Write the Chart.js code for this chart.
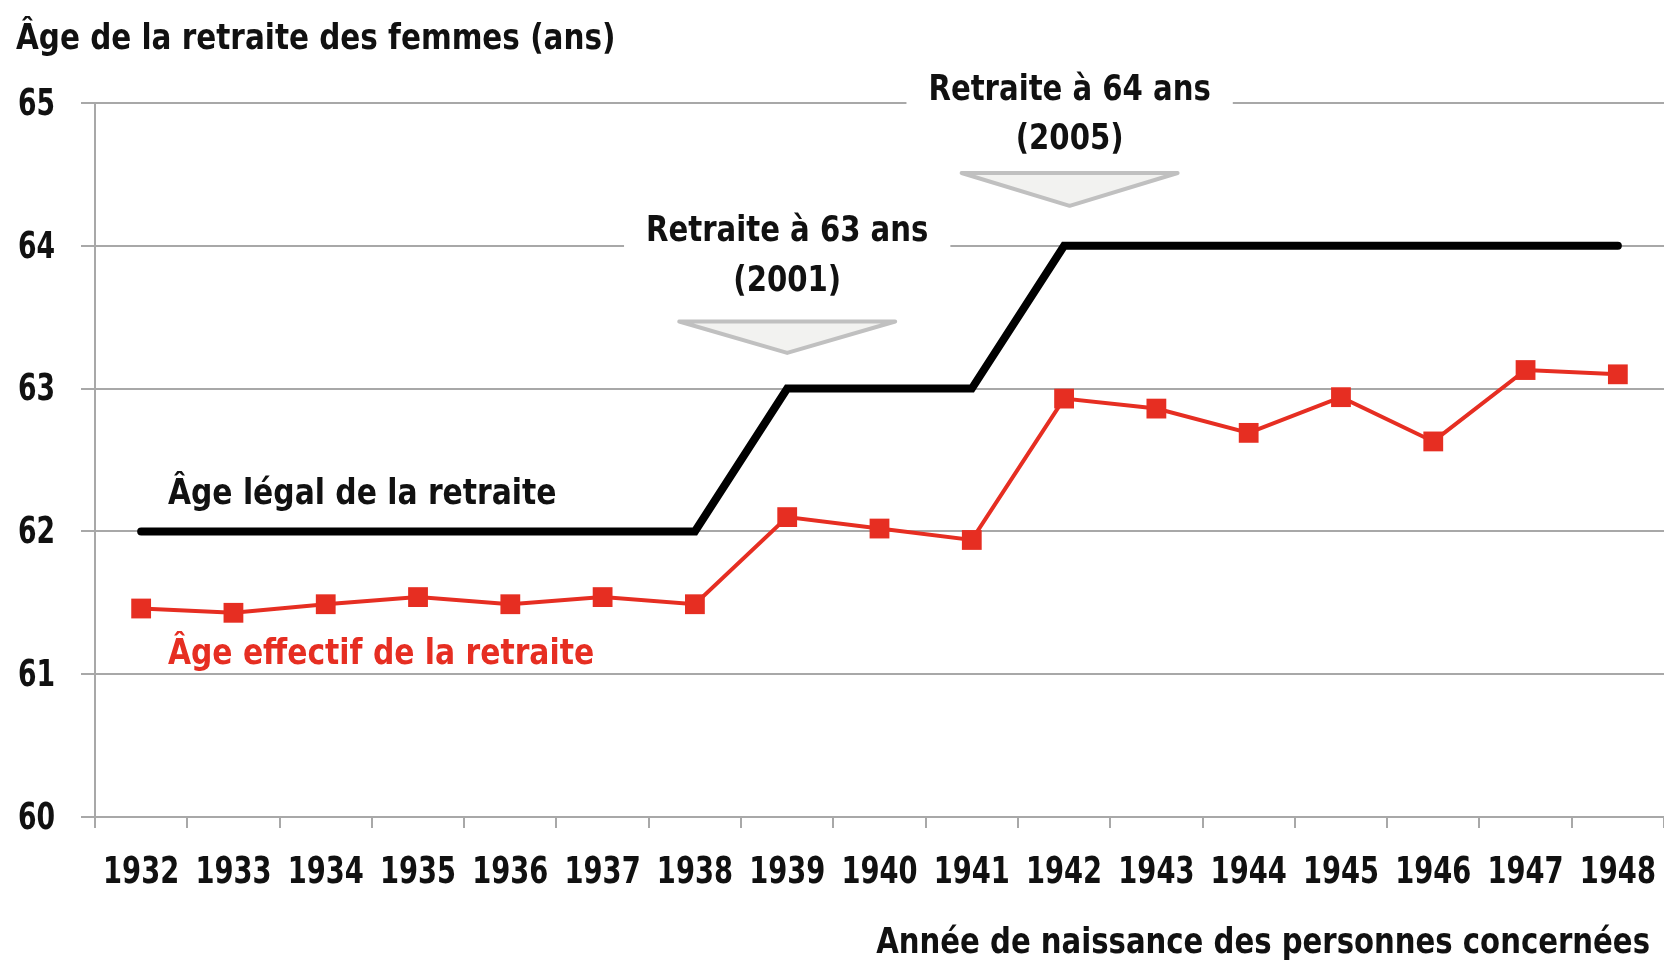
<!DOCTYPE html>
<html lang="fr">
<head>
<meta charset="utf-8">
<title>Âge de la retraite des femmes</title>
<script src="https://cdn.jsdelivr.net/npm/chart.js@4/dist/chart.umd.min.js"></script>
<style>
  html, body { margin: 0; padding: 0; background: #fff; overflow: hidden; }
  #wrap { width: 1664px; height: 963px; position: relative; }
  canvas { display: block; }
</style>
</head>
<body>
<div id="wrap"><canvas id="retraiteChart"></canvas></div>
<script>
const years = ['1932', '1933', '1934', '1935', '1936', '1937', '1938', '1939', '1940',
  '1941', '1942', '1943', '1944', '1945', '1946', '1947', '1948'];
const ageLegal = [62, 62, 62, 62, 62, 62, 62, 63, 63, 63, 64, 64, 64, 64, 64, 64, 64];
const ageEffectif = [61.46, 61.43, 61.49, 61.54, 61.49, 61.54, 61.49, 62.10, 62.02,
  61.94, 62.93, 62.86, 62.69, 62.94, 62.63, 63.13, 63.10];
const yTicks = [60, 61, 62, 63, 64, 65];

const FONT = "'DejaVu Sans Condensed', 'DejaVu Sans', sans-serif";
const RED = '#e62e22';
const INK = '#111';
const GRID = '#a8a8a8';

// reform markers: where the law changed, drawn as labelled triangles
const reforms = [
  { lines: ['Retraite à 63 ans', '(2001)'], at: 7, top: 63.47, tip: 63.25, text: [64.1, 63.75] },
  { lines: ['Retraite à 64 ans', '(2005)'], at: 10.06, top: 64.51, tip: 64.28, text: [65.09, 64.74] }
];

// the original uses a tall condensed face, so squeeze the text horizontally
function narrowText(ctx, text, x, y, align, sx) {
  ctx.save();
  ctx.translate(x, y);
  ctx.scale(sx, 1);
  ctx.textAlign = align;
  ctx.fillText(text, 0, 0);
  ctx.restore();
}

const annotations = {
  id: 'annotations',
  beforeDatasetsDraw(chart) {
    const { ctx, scales: { x, y } } = chart;
    const half = (x.getPixelForValue(1) - x.getPixelForValue(0)) * 1.17;
    ctx.save();
    reforms.forEach((r) => {
      const cx = x.getPixelForValue(r.at);
      ctx.beginPath();
      ctx.moveTo(cx - half, y.getPixelForValue(r.top));
      ctx.lineTo(cx + half, y.getPixelForValue(r.top));
      ctx.lineTo(cx, y.getPixelForValue(r.tip));
      ctx.closePath();
      ctx.fillStyle = '#f2f2f0';
      ctx.fill();
      ctx.lineWidth = 4;
      ctx.lineJoin = 'round';
      ctx.strokeStyle = '#c0c0c0';
      ctx.stroke();
      // text on a white box, which hides the grid line behind it
      ctx.font = 'bold 36px ' + FONT;
      ctx.textBaseline = 'middle';
      r.lines.forEach((t, i) => {
        const ty = y.getPixelForValue(r.text[i]);
        const w = ctx.measureText(t).width * 0.9;
        ctx.fillStyle = '#fff';
        ctx.fillRect(cx - w / 2 - 22, ty - 22, w + 44, 44);
        ctx.fillStyle = INK;
        narrowText(ctx, t, cx, ty, 'center', 0.9);
      });
    });
    ctx.restore();
  },
  afterDraw(chart) {
    const { ctx, scales: { x, y } } = chart;
    ctx.save();
    ctx.textBaseline = 'middle';
    ctx.fillStyle = INK;

    // tick labels, placed by the axes
    ctx.font = 'bold 38px ' + FONT;
    x.ticks.forEach((t, i) => {
      narrowText(ctx, years[i], x.getPixelForTick(i), 873, 'center', 0.8);
    });
    y.ticks.forEach((t, i) => {
      narrowText(ctx, String(t.value), 18, y.getPixelForTick(i) + 2, 'left', 0.78);
    });

    ctx.font = 'bold 36px ' + FONT;
    narrowText(ctx, 'Âge de la retraite des femmes (ans)', 16, 40, 'left', 0.91);
    narrowText(ctx, 'Année de naissance des personnes concernées', 1650, 944, 'right', 0.9);
    narrowText(ctx, 'Âge légal de la retraite', x.getPixelForValue(0.29), y.getPixelForValue(62.26), 'left', 0.92);
    ctx.fillStyle = RED;
    narrowText(ctx, 'Âge effectif de la retraite', x.getPixelForValue(0.29), y.getPixelForValue(61.14), 'left', 0.92);
    ctx.restore();
  }
};

new Chart(document.getElementById('retraiteChart'), {
  type: 'line',
  data: {
    labels: years,
    datasets: [
      {
        label: 'Âge légal de la retraite',
        data: ageLegal,
        borderColor: '#000',
        borderWidth: 8,
        borderCapStyle: 'round',
        borderJoinStyle: 'miter',
        pointRadius: 0,
        tension: 0
      },
      {
        label: 'Âge effectif de la retraite',
        data: ageEffectif,
        borderColor: RED,
        backgroundColor: RED,
        borderWidth: 4,
        pointStyle: 'rect',
        pointRadius: 14,
        pointBorderWidth: 0,
        tension: 0
      }
    ]
  },
  options: {
    responsive: true,
    maintainAspectRatio: false,
    animation: false,
    layout: { autoPadding: false, padding: { left: 18, top: 103, right: 0, bottom: 0 } },
    plugins: {
      legend: { display: false },
      tooltip: { enabled: false }
    },
    scales: {
      x: {
        offset: true,
        grid: { offset: true, drawOnChartArea: false, color: GRID, lineWidth: 2, tickLength: 11 },
        border: { color: GRID, width: 2 },
        ticks: { display: false, autoSkip: false, maxRotation: 0 },
        afterFit: (scale) => { scale.height = 146; scale.paddingLeft = 0; scale.paddingRight = 0; }
      },
      y: {
        min: yTicks[0],
        max: yTicks[yTicks.length - 1],
        afterBuildTicks: (scale) => { scale.ticks = yTicks.map((v) => ({ value: v })); },
        grid: { color: GRID, lineWidth: 2, tickLength: 14 },
        border: { color: GRID, width: 2 },
        ticks: { display: false },
        afterFit: (scale) => { scale.width = 77; scale.paddingTop = 0; scale.paddingBottom = 0; }
      }
    }
  },
  plugins: [annotations]
});
</script>
</body>
</html>
